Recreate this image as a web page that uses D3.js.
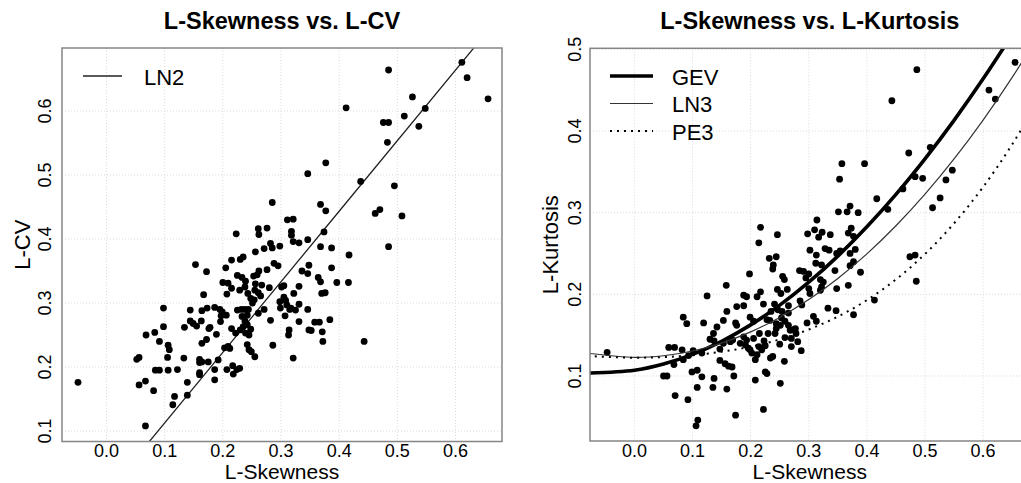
<!DOCTYPE html>
<html>
<head>
<meta charset="utf-8">
<script src="https://cdn.jsdelivr.net/npm/d3@7"></script>
<style>
body { margin: 0; background: #fff; }
text { font-family: "Liberation Sans", Arial, sans-serif; fill: #000; }
</style>
</head>
<body>
<script>

// left panel points (L-skewness, L-CV)
var skewA = [0.611,0.620,0.485,0.656,0.526,0.548,0.512,0.537,0.476,0.485,0.483,0.412,0.377,0.346,0.437,0.495,0.462,0.470,0.508,0.485,
0.285,0.368,0.377,0.374,0.368,0.387,0.417,0.416,0.396,0.387,0.346,0.348,0.346,0.336,0.364,0.368,0.370,0.376,0.331,0.322,
0.384,0.358,0.366,0.348,0.352,0.371,0.372,0.443,0.331,0.346,0.331,0.311,0.321,0.318,0.318,0.321,0.331,0.261,0.276,0.223,
0.262,0.282,0.298,0.285,0.271,0.256,0.235,0.230,0.215,0.205,0.288,0.295,0.276,0.262,0.259,0.253,0.225,0.233,0.239,0.200,
0.209,0.256,0.267,0.301,0.305,0.215,0.229,0.238,0.243,0.255,0.261,0.207,0.167,0.254,0.265,0.248,0.251,0.298,0.305,0.308,
0.310,0.317,0.325,0.299,0.307,0.315,0.244,0.238,0.225,0.271,0.261,0.242,0.233,0.238,0.242,0.235,0.230,0.248,0.239,0.245,
0.282,0.286,0.314,0.313,0.321,0.222,0.215,0.242,0.245,0.249,0.255,0.209,0.212,0.203,0.217,0.224,0.229,0.218,0.207,0.186,
0.186,0.192,0.175,0.164,0.173,0.164,0.186,0.199,0.206,0.196,0.189,0.176,0.197,0.172,0.153,0.144,0.144,0.149,0.155,0.134,
0.163,0.178,0.172,0.164,0.160,0.160,0.160,0.160,0.133,0.106,0.108,0.105,0.098,0.098,0.091,0.083,0.068,0.052,0.056,0.084,
0.091,0.106,0.122,0.056,0.067,0.081,0.114,0.117,0.139,0.139,0.067,-0.049,0.280,0.195,0.232];
var lcv = [0.676,0.652,0.664,0.619,0.622,0.604,0.592,0.576,0.582,0.582,0.551,0.605,0.519,0.502,0.490,0.483,0.440,0.446,0.436,0.388,
0.457,0.454,0.444,0.411,0.388,0.386,0.375,0.332,0.332,0.355,0.399,0.359,0.346,0.350,0.340,0.333,0.315,0.316,0.326,0.315,
0.274,0.270,0.270,0.258,0.257,0.255,0.240,0.240,0.271,0.290,0.298,0.430,0.431,0.412,0.406,0.396,0.394,0.416,0.417,0.408,
0.407,0.393,0.389,0.386,0.385,0.380,0.372,0.368,0.367,0.355,0.362,0.358,0.352,0.350,0.344,0.342,0.343,0.340,0.334,0.332,
0.331,0.330,0.328,0.325,0.327,0.323,0.320,0.325,0.315,0.320,0.316,0.314,0.313,0.305,0.311,0.307,0.300,0.302,0.309,0.304,
0.297,0.292,0.289,0.292,0.280,0.290,0.290,0.290,0.289,0.290,0.284,0.281,0.279,0.272,0.266,0.263,0.258,0.259,0.253,0.250,
0.273,0.234,0.258,0.250,0.214,0.253,0.260,0.235,0.227,0.224,0.216,0.232,0.229,0.230,0.202,0.196,0.198,0.189,0.196,0.196,
0.180,0.211,0.208,0.208,0.292,0.288,0.293,0.286,0.281,0.271,0.251,0.260,0.280,0.349,0.360,0.289,0.272,0.268,0.264,0.262,
0.272,0.262,0.243,0.237,0.212,0.207,0.191,0.188,0.214,0.234,0.227,0.215,0.292,0.263,0.240,0.254,0.250,0.212,0.215,0.195,
0.195,0.195,0.196,0.172,0.178,0.163,0.141,0.154,0.176,0.156,0.108,0.176,0.324,0.290,0.290];

// right panel points (L-skewness, L-kurtosis)
var skewB = [0.655,0.486,0.443,0.610,0.621,0.472,0.509,0.496,0.483,0.462,0.547,0.536,0.526,0.513,0.417,0.436,0.357,0.396,0.353,0.351,
0.366,0.371,0.385,0.373,0.368,0.377,0.380,0.371,0.377,0.371,0.389,0.368,0.377,0.413,0.348,0.347,0.333,0.474,0.483,0.485,
0.314,0.298,0.310,0.317,0.323,0.337,0.328,0.335,0.302,0.313,0.348,0.354,0.322,0.312,0.345,0.320,0.325,0.300,0.295,0.284,
0.291,0.300,0.302,0.285,0.288,0.322,0.320,0.308,0.313,0.297,0.277,0.278,0.281,0.287,0.270,0.217,0.214,0.246,0.232,0.244,
0.239,0.238,0.255,0.258,0.198,0.246,0.252,0.263,0.217,0.211,0.188,0.193,0.158,0.125,0.222,0.241,0.235,0.247,0.254,0.265,
0.265,0.253,0.259,0.228,0.233,0.244,0.251,0.265,0.268,0.275,0.244,0.242,0.259,0.270,0.250,0.258,0.251,0.234,0.238,0.225,
0.228,0.222,0.208,0.208,0.211,0.202,0.199,0.214,0.219,0.225,0.223,0.230,0.215,0.205,0.193,0.188,0.182,0.191,0.196,0.205,
0.199,0.174,0.176,0.176,0.188,0.159,0.153,0.142,0.136,0.137,0.153,0.147,0.165,0.169,0.147,0.156,0.162,0.168,0.171,0.159,
0.174,0.137,0.135,0.116,0.108,0.099,0.108,0.109,0.106,0.092,0.070,0.050,0.056,0.068,0.084,0.090,0.101,0.093,0.082,0.084,
0.059,0.069,0.119,-0.047,0.116,0.130];
var lkurt = [0.484,0.475,0.437,0.450,0.439,0.373,0.380,0.342,0.344,0.329,0.352,0.340,0.318,0.306,0.317,0.304,0.360,0.360,0.341,0.301,
0.301,0.308,0.300,0.281,0.275,0.271,0.255,0.250,0.240,0.235,0.227,0.211,0.175,0.193,0.207,0.180,0.183,0.246,0.248,0.216,
0.291,0.274,0.279,0.270,0.276,0.273,0.256,0.254,0.254,0.248,0.250,0.253,0.236,0.238,0.229,0.218,0.215,0.225,0.220,0.229,
0.228,0.207,0.201,0.192,0.187,0.209,0.205,0.173,0.167,0.165,0.158,0.152,0.142,0.131,0.146,0.282,0.263,0.273,0.244,0.246,
0.236,0.231,0.222,0.218,0.225,0.206,0.201,0.206,0.203,0.197,0.199,0.197,0.211,0.198,0.188,0.188,0.179,0.181,0.179,0.186,
0.177,0.171,0.167,0.169,0.168,0.164,0.162,0.162,0.156,0.157,0.158,0.152,0.147,0.136,0.139,0.118,0.091,0.122,0.124,0.105,
0.103,0.059,0.095,0.120,0.126,0.128,0.132,0.136,0.132,0.137,0.143,0.152,0.152,0.146,0.144,0.148,0.140,0.138,0.134,0.167,
0.172,0.165,0.162,0.185,0.186,0.179,0.168,0.160,0.152,0.143,0.140,0.133,0.142,0.144,0.119,0.115,0.112,0.111,0.100,0.084,
0.052,0.097,0.086,0.099,0.107,0.105,0.086,0.046,0.039,0.071,0.076,0.100,0.100,0.114,0.172,0.164,0.131,0.125,0.132,0.120,
0.135,0.135,0.165,0.129,0.128,0.145];

// LN2 line (left panel)
var ln2Skew = [0.06, 0.20, 0.40, 0.65];
var ln2CV = [0.0685, 0.2228, 0.4433, 0.7189];

// theoretical curves (right panel)
var curveSkew = [-0.08,0,0.05,0.1,0.15,0.2,0.25,0.3,0.35,0.4,0.45,0.5,0.55,0.6,0.65,0.7];
var gevKurt = [0.1036,0.1070,0.1147,0.1265,0.1425,0.1626,0.1867,0.2148,0.2468,0.2827,0.3224,0.3659,0.4130,0.4638,0.5182,0.575];
var ln3Kurt = [0.1278,0.1228,0.1248,0.1306,0.1403,0.1540,0.1717,0.1935,0.2194,0.2495,0.2839,0.3226,0.3657,0.4133,0.4656,0.5226];
var pe3Kurt = [0.1244,0.1224,0.1232,0.1255,0.1297,0.1359,0.1448,0.1569,0.1727,0.1929,0.2182,0.2493,0.2869,0.3314,0.3835,0.4435];

var xTicks = [0, 0.1, 0.2, 0.3, 0.4, 0.5, 0.6];
var cvTicks = [0.1, 0.2, 0.3, 0.4, 0.5, 0.6];
var kurtTicks = [0.1, 0.2, 0.3, 0.4, 0.5];

var W = 1021, H = 483;
var svg = d3.select('body').append('svg').attr('width', W).attr('height', H);

function makePanel(id, left, right, top, bottom, yDomain, yTicks, title, ylab, ytickX, ylabX) {

	var x = d3.scaleLinear().domain([-0.0765, 0.68]).range([left, right]);
	var y = d3.scaleLinear().domain(yDomain).range([bottom, top]);
	var g = svg.append('g');

	g.append('clipPath').attr('id', id)
		.append('rect').attr('x', left).attr('y', top)
		.attr('width', right - left).attr('height', bottom - top);

	// dotted grid
	g.selectAll('.gx').data(xTicks).enter().append('line')
		.attr('x1', d => x(d)).attr('x2', d => x(d))
		.attr('y1', top).attr('y2', bottom)
		.attr('stroke', '#dadada').attr('stroke-dasharray', '1,2');
	g.selectAll('.gy').data(yTicks).enter().append('line')
		.attr('x1', left).attr('x2', right)
		.attr('y1', d => y(d)).attr('y2', d => y(d))
		.attr('stroke', '#dadada').attr('stroke-dasharray', '1,2');

	// tick labels
	g.selectAll('.tx').data(xTicks).enter().append('text')
		.attr('x', d => x(d)).attr('y', 456.5)
		.attr('text-anchor', 'middle').style('font-size', '18px')
		.text(d => d3.format('.1f')(d));
	g.selectAll('.ty').data(yTicks).enter().append('text')
		.attr('transform', d => 'translate(' + ytickX + ',' + y(d) + ') rotate(-90)')
		.attr('text-anchor', 'middle').style('font-size', '18px')
		.text(d => d3.format('.1f')(d));

	g.append('text').attr('x', (left + right) / 2).attr('y', 478.5)
		.attr('text-anchor', 'middle').style('font-size', '21px')
		.text('L-Skewness');
	g.append('text')
		.attr('transform', 'translate(' + ylabX + ',' + (top + bottom) / 2 + ') rotate(-90)')
		.attr('text-anchor', 'middle').style('font-size', '22px')
		.text(ylab);
	g.append('text').attr('x', (left + right) / 2).attr('y', 28.5)
		.attr('text-anchor', 'middle').style('font-size', '23.5px').style('font-weight', 'bold')
		.text(title);

	var plot = g.append('g').attr('clip-path', 'url(#' + id + ')');

	g.append('rect').attr('x', left).attr('y', top)
		.attr('width', right - left).attr('height', bottom - top)
		.attr('fill', 'none').attr('stroke', '#858585').attr('stroke-width', 1.5);

	return {x: x, y: y, g: g, plot: plot};
}

// ---- left: L-Skewness vs L-CV
var p1 = makePanel('clipA', 62, 502, 48, 441.5, [0.0836, 0.6984], cvTicks,
	'L-Skewness vs. L-CV', 'L-CV', 50.5, 29.5);

p1.plot.append('path')
	.datum(d3.range(ln2Skew.length))
	.attr('d', d3.line().x(i => p1.x(ln2Skew[i])).y(i => p1.y(ln2CV[i])))
	.attr('fill', 'none').attr('stroke', '#222').attr('stroke-width', 1.3);

p1.plot.selectAll('circle').data(skewA).enter().append('circle')
	.attr('cx', d => p1.x(d))
	.attr('cy', (d, i) => p1.y(lcv[i]))
	.attr('r', 3.4).attr('fill', '#000');

p1.g.append('line').attr('x1', 83).attr('x2', 122).attr('y1', 76).attr('y2', 76)
	.attr('stroke', '#222').attr('stroke-width', 1.3);
p1.g.append('text').attr('x', 144).attr('y', 84.5).style('font-size', '22px').text('LN2');

// ---- right: L-Skewness vs L-Kurtosis
var p2 = makePanel('clipB', 590, 1029.6, 48.3, 441, [0.0204, 0.5012], kurtTicks,
	'L-Skewness vs. L-Kurtosis', 'L-Kurtosis', 581, 558);

var curves = [
	{name: 'GEV', vals: gevKurt, width: 3.6, dash: null, color: '#000'},
	{name: 'LN3', vals: ln3Kurt, width: 1.2, dash: null, color: '#333'},
	{name: 'PE3', vals: pe3Kurt, width: 2, dash: '2,5', color: '#000'}
];

p2.plot.selectAll('circle').data(skewB).enter().append('circle')
	.attr('cx', d => p2.x(d))
	.attr('cy', (d, i) => p2.y(lkurt[i]))
	.attr('r', 3.4).attr('fill', '#000');

curves.forEach(function(c, k) {
	p2.plot.append('path')
		.datum(d3.range(curveSkew.length))
		.attr('d', d3.line().curve(d3.curveCatmullRom)
			.x(i => p2.x(curveSkew[i])).y(i => p2.y(c.vals[i])))
		.attr('fill', 'none').attr('stroke', c.color)
		.attr('stroke-width', c.width)
		.attr('stroke-dasharray', c.dash);

	// legend
	var ly = 76 + k * 27.5;
	p2.g.append('line').attr('x1', 610).attr('x2', 653).attr('y1', ly).attr('y2', ly)
		.attr('stroke', c.color).attr('stroke-width', c.width)
		.attr('stroke-dasharray', c.dash);
	p2.g.append('text').attr('x', 672).attr('y', ly + 8.5).style('font-size', '22px').text(c.name);
});

</script>
</body>
</html>
